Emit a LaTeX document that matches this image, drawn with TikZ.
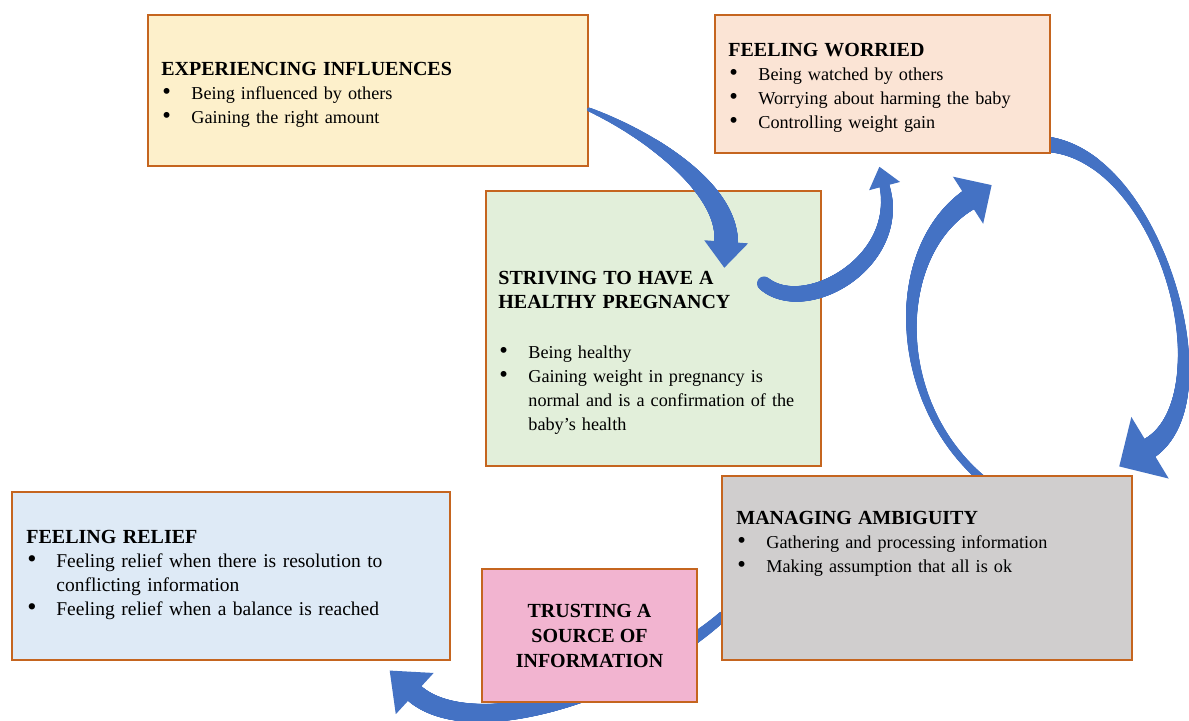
\documentclass[tikz,border=0pt]{standalone}
\usepackage{fontspec}
\setmainfont{Liberation Serif}
\usetikzlibrary{calc,decorations.markings}

\definecolor{edgebrown}{HTML}{C5651F}
\definecolor{arrowblue}{HTML}{4472C4}
\definecolor{inflfill}{HTML}{FDF0CB}
\definecolor{worryfill}{HTML}{FBE4D5}
\definecolor{healthfill}{HTML}{E2EFDA}
\definecolor{ambigfill}{HTML}{D0CECE}
\definecolor{relieffill}{HTML}{DEEAF6}
\definecolor{trustfill}{HTML}{F2B4D0}

\pgfdeclarelayer{background}
\pgfsetlayers{background,main}

\newcommand\bul[1]{\par\hangindent=15pt\hangafter=1\noindent
  \makebox[15pt][l]{\hspace{0.5pt}\raisebox{0.2pt}{\scalebox{1.35}{\textbullet}}}#1\par}

\tikzset{
  box/.style={draw=edgebrown, line width=1pt, fill=#1, inner sep=0pt},
  txt/.style={anchor=north west, inner sep=0pt, text width=215pt, align=left,
    font=\fontsize{9.1}{12}\selectfont},
  bluearrow/.style n args={5}{
    postaction={decorate, decoration={markings,
      mark=between positions 0 and 1 step 0.3pt with {
        \pgfmathsetmacro\pp{\pgfkeysvalueof{/pgf/decoration/mark info/distance from start}/\pgfdecoratedpathlength}
        \pgfmathsetmacro\rr{#1*(1-\pp)*(1-2*\pp)+4*#2*\pp*(1-\pp)+#3*\pp*(2*\pp-1)}
        \fill[arrowblue] (0pt,0pt) circle (\rr pt);}}},
    postaction={decorate, decoration={markings,
      mark=at position 0.999 with {
        \fill[arrowblue] (-1pt,#4pt) -- (#5pt,0pt) -- (-1pt,-#4pt) -- cycle;}}}}
}

\begin{document}
\begin{tikzpicture}[x=0.5pt, y=-0.5pt]
  \useasboundingbox (0,0) rectangle (1189,721);

  \node[box=inflfill, minimum width=220pt, minimum height=75.5pt] (infl) at (368,90.5) {};
  \node[box=worryfill, minimum width=167.5pt, minimum height=69pt] (worried) at (882.5,84) {};
  \node[box=healthfill, minimum width=167.5pt, minimum height=137.5pt] (health) at (653.5,328.5) {};
  \node[box=ambigfill, minimum width=205pt, minimum height=92pt] (ambig) at (927,568) {};
  \node[box=relieffill, minimum width=219pt, minimum height=84pt] (relief) at (231,576) {};
  \node[box=trustfill, minimum width=107.5pt, minimum height=66.5pt, align=center,
    font=\fontsize{10}{12.5}\selectfont\bfseries] (trust) at (589.5,635.5)
    {TRUSTING A\\SOURCE OF\\INFORMATION};

  \node[txt] (infltxt) at ($(infl.north west)+(14,48)$)
    {\textbf{\fontsize{10}{12}\selectfont EXPERIENCING INFLUENCES}
     \bul{Being influenced by others}
     \bul{Gaining the right amount}};
  \node[txt] (worriedtxt) at ($(worried.north west)+(14,29)$)
    {\textbf{\fontsize{10}{12}\selectfont FEELING WORRIED}
     \bul{Being watched by others}
     \bul{Worrying about harming the baby}
     \bul{Controlling weight gain}};
  \node[txt] (healthtxt) at ($(health.north west)+(13,81)$)
    {\textbf{\fontsize{10}{12}\selectfont STRIVING TO HAVE A\newline HEALTHY PREGNANCY}\par\vspace{13pt}
     \bul{Being healthy}
     \bul{Gaining weight in pregnancy is\newline normal and is a confirmation of the\newline baby's health}};
  \node[txt] (ambigtxt) at ($(ambig.north west)+(15,36)$)
    {\textbf{\fontsize{10}{12}\selectfont MANAGING AMBIGUITY}
     \bul{Gathering and processing information}
     \bul{Making assumption that all is ok}};
  \node[txt, font=\fontsize{9.75}{12}\selectfont] (relieftxt) at ($(relief.north west)+(15,39)$)
    {\textbf{\fontsize{10}{12}\selectfont FEELING RELIEF}
     \bul{Feeling relief when there is resolution to\newline conflicting information}
     \bul{Feeling relief when a balance is reached}};

  \coordinate (a1end) at (726,244);
  \coordinate (a2end) at (884,184);
  \coordinate (a3end) at (1148,449);
  \coordinate (a4end) at (970,199);
  \coordinate (a5end) at (413,692);

  \begin{pgfonlayer}{background}
    \fill[white] (0,0) rectangle (1189,721);
    \path[bluearrow={4}{2}{5.5}{18}{17}] ($(worried.south east)+(-8,-10)$)
      .. controls (1160,150) and (1230,400) .. (a3end);
    \path[bluearrow={2}{2.5}{5.5}{14}{13}] ($(ambig.north)+(55,4)$)
      .. controls (890,400) and (890,250) .. (a4end);
    \path[bluearrow={2.5}{4}{5}{14}{16}] ($(ambig.west)+(2,48)$)
      .. controls (640,690) and (470,745) .. (a5end);
  \end{pgfonlayer}

  \path[bluearrow={1}{3.5}{6}{11}{12}] ($(infl.east)+(0,19)$)
    .. controls (650,135) and (730,190) .. (a1end);
  \path[bluearrow={3.5}{4}{2.5}{8}{9}] ($(health.east)+(-58,-45)$)
    .. controls (805,318) and (905,262) .. (a2end);
\end{tikzpicture}
\end{document}
